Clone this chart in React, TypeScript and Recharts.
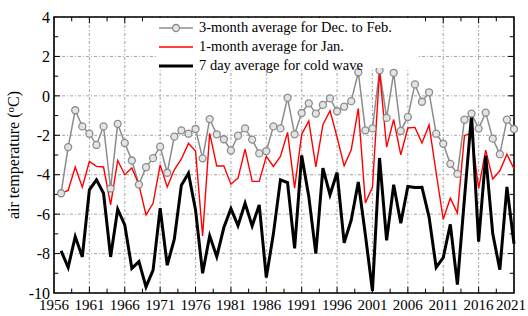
import { LineChart, Line, XAxis, YAxis, CartesianGrid, ReferenceLine, ReferenceArea } from 'recharts';

const years = [
  1957, 1958, 1959, 1960, 1961, 1962, 1963, 1964, 1965, 1966, 1967, 1968, 1969,
  1970, 1971, 1972, 1973, 1974, 1975, 1976, 1977, 1978, 1979, 1980, 1981, 1982,
  1983, 1984, 1985, 1986, 1987, 1988, 1989, 1990, 1991, 1992, 1993, 1994, 1995,
  1996, 1997, 1998, 1999, 2000, 2001, 2002, 2003, 2004, 2005, 2006, 2007, 2008,
  2009, 2010, 2011, 2012, 2013, 2014, 2015, 2016, 2017, 2018, 2019, 2020, 2021,
];

// 3-month average for Dec. to Feb.
const decFeb = [
  -4.94, -2.6, -0.73, -1.55, -1.92, -2.49, -1.55, -4.7, -1.42, -2.39, -3.28, -4.5, -3.62,
  -3.16, -2.58, -3.9, -2.07, -1.75, -1.92, -1.68, -3.17, -1.18, -1.95, -2.2, -2.77, -2.02,
  -1.65, -2.22, -2.92, -2.8, -1.55, -1.65, -0.1, -1.95, -0.87, -0.38, -0.9, -0.46, -0.13,
  -0.78, -0.55, -0.27, 1.2, -1.75, -1.65, 1.3, -1.12, 1.17, -1.78, -1.07, 0.58, -0.3,
  0.18, -1.92, -2.43, -3.45, -3.96, -1.21, -0.9, -1.66, -0.85, -2.17, -2.96, -1.21, -1.68,
];

// 1-month average for Jan.
const jan = [
  -4.95, -4.8, -3.61, -4.63, -3.33, -3.58, -3.61, -5.53, -3.28, -4.0, -3.66, -4.51, -6.04,
  -5.45, -3.5, -4.62, -3.75, -3.2, -2.41, -2.8, -7.1, -1.9, -3.56, -3.55, -4.48, -4.17,
  -2.7, -4.34, -4.34, -3.07, -3.58, -3.07, -1.85, -4.68, -1.95, -1.27, -3.6, -1.46, -0.75,
  -2.1, -3.55, -2.73, -0.64, -5.43, -4.64, 1.25, -2.6, -1.2, -2.99, -1.63, -1.6, -2.39,
  -1.48, -3.9, -6.26, -5.19, -5.95, -2.02, -1.87, -4.7, -2.75, -4.22, -3.8, -2.96, -3.7,
];

// 7 day average for cold wave
const coldWave = [
  -7.86, -8.7, -7.14, -8.17, -4.77, -4.26, -4.94, -8.17, -5.75, -6.55, -8.75, -8.41, -9.69,
  -8.84, -5.7, -8.59, -7.27, -4.53, -3.92, -5.79, -9.0, -7.1, -8.16, -6.68, -5.72, -6.58,
  -5.45, -6.6, -5.53, -9.22, -7.0, -4.26, -4.4, -7.74, -3.02, -5.1, -8.0, -3.66, -5.02,
  -3.89, -7.45, -6.3, -4.37, -7.05, -9.9, -3.15, -7.33, -4.51, -6.46, -4.6, -4.65, -4.64,
  -6.15, -8.7, -8.2, -6.52, -9.57, -5.2, -0.97, -7.4, -3.03, -7.0, -8.82, -4.62, -7.5,
];

const xTicks = [1956, 1961, 1966, 1971, 1976, 1981, 1986, 1991, 1996, 2001, 2006, 2011, 2016, 2021];
const yTicks = [-10, -8, -6, -4, -2, 0, 2, 4];

const data = years.map((year, i) => ({ year, decFeb: decFeb[i], jan: jan[i], coldWave: coldWave[i] }));

const X0 = 1956;
const X1 = 2021;
const Y0 = -10;
const Y1 = 4;
const FONT = '"Liberation Serif", "Times New Roman", serif';

// small inward tick marks on all four sides
const xMinor: number[] = [];
for (let v = X0 + 2.5; v < X1; v += 2.5) xMinor.push(v);
const yMinor: number[] = [];
for (let v = Y0 + 1; v < Y1; v += 1) yMinor.push(v);

// year labels; the last one is nudged left so it stays inside the picture
const YearTick = ({ x, y, payload }: { x?: number; y?: number; payload?: { value: number } }) => (
  <text
    x={x}
    y={y}
    dy="0.71em"
    dx={payload?.value === X1 ? -3 : 0}
    textAnchor="middle"
    fontFamily={FONT}
    fontSize={15}
    fill="#000"
  >
    {payload?.value}
  </text>
);

const legendItems = [
  { label: '3-month average for Dec. to Feb.', color: '#8c8c8c', w: 1.5, dot: true },
  { label: '1-month average for Jan.', color: '#ff0000', w: 1.5, dot: false },
  { label: '7 day average for cold wave', color: '#000', w: 3, dot: false },
];

export default function App() {
  return (
    <div style={{ position: 'absolute', left: 0, top: 0, width: 528, height: 316, background: '#fff', fontFamily: FONT }}>
      <LineChart width={528} height={316} data={data} margin={{ top: 17, right: 14, bottom: 0, left: 0 }}>
        <CartesianGrid stroke="#8a8a8a" strokeDasharray="3 2 1 2" strokeWidth={0.8} />
        <XAxis
          type="number"
          dataKey="year"
          domain={[X0, X1]}
          ticks={xTicks}
          interval={0}
          height={23}
          axisLine={false}
          tickLine={false}
          tickSize={0}
          tickMargin={6}
          tick={<YearTick />}
        />
        <YAxis
          type="number"
          domain={[Y0, Y1]}
          ticks={yTicks}
          interval={0}
          width={54}
          axisLine={false}
          tickLine={false}
          tickSize={0}
          tickMargin={4}
          tick={{ fontFamily: FONT, fontSize: 16, fill: '#000' }}
        />
        {xMinor.map((v) => {
          const len = (v - X0) % 5 === 0 ? 0.32 : 0.22;
          return [
            <ReferenceLine key={`xb-${v}`} segment={[{ x: v, y: Y0 }, { x: v, y: Y0 + len }]} stroke="#000" />,
            <ReferenceLine key={`xt-${v}`} segment={[{ x: v, y: Y1 }, { x: v, y: Y1 - len }]} stroke="#000" />,
          ];
        })}
        {yMinor.map((v) => {
          const len = (v - Y0) % 2 === 0 ? 0.85 : 0.6;
          return [
            <ReferenceLine key={`yl-${v}`} segment={[{ x: X0, y: v }, { x: X0 + len, y: v }]} stroke="#000" />,
            <ReferenceLine key={`yr-${v}`} segment={[{ x: X1, y: v }, { x: X1 - len, y: v }]} stroke="#000" />,
          ];
        })}
        <Line
          dataKey="decFeb"
          stroke="#8c8c8c"
          strokeWidth={1.5}
          dot={{ r: 3.5, stroke: '#8c8c8c', strokeWidth: 1.3, fill: '#e4e4e4' }}
          isAnimationActive={false}
        />
        <Line dataKey="jan" stroke="#ff0000" strokeWidth={1.4} dot={false} isAnimationActive={false} />
        <Line dataKey="coldWave" stroke="#000" strokeWidth={3} dot={false} isAnimationActive={false} />
        <ReferenceArea x1={X0} x2={X1} y1={Y0} y2={Y1} fill="none" stroke="#000" strokeWidth={1.6} />
      </LineChart>

      {/* y axis title */}
      <svg width={30} height={316} style={{ position: 'absolute', left: 0, top: 0 }}>
        <text
          transform="translate(19,155) rotate(-90)"
          textAnchor="middle"
          fontFamily={FONT}
          fontSize={16}
          fill="#000"
        >
          air temperature (<tspan dy={-5} fontSize={11}>o</tspan>
          <tspan dy={5}>C)</tspan>
        </text>
      </svg>

      {/* legend */}
      <div
        style={{
          position: 'absolute',
          left: 156,
          top: 18,
          width: 262,
          height: 50,
          background: '#fff',
          fontFamily: FONT,
          fontSize: 14.5,
          lineHeight: '19px',
          color: '#000',
        }}
      >
        {legendItems.map((item) => (
          <div key={item.label} style={{ display: 'flex', alignItems: 'center', height: 19, whiteSpace: 'nowrap' }}>
            <svg width={40} height={12} style={{ flex: 'none' }}>
              <line x1={3} y1={6} x2={37} y2={6} stroke={item.color} strokeWidth={item.w} />
              {item.dot && <circle cx={20} cy={6} r={3.5} stroke={item.color} strokeWidth={1.3} fill="#e4e4e4" />}
            </svg>
            <span style={{ marginLeft: 3 }}>{item.label}</span>
          </div>
        ))}
      </div>
    </div>
  );
}
